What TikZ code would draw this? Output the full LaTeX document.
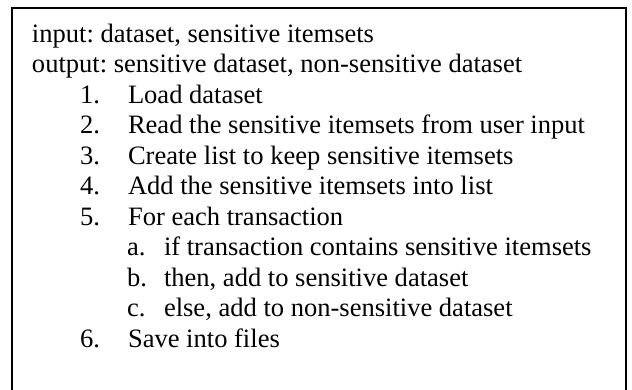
\documentclass[tikz,border=0pt]{standalone}
\usepackage{fontspec}
\setmainfont{Liberation Serif}
\frenchspacing
\begin{document}
\begin{tikzpicture}[x=0.5pt,y=-0.5pt,
  txt/.style={anchor=base west,inner sep=0pt,outer sep=0pt,font=\fontsize{13.27pt}{15.25pt}\selectfont\frenchspacing},
  frame/.style={line width=1pt,draw=black}]
\useasboundingbox (0,0) rectangle (632,390);
\fill[white] (0,0) rectangle (632,390);
\draw[frame] (11.5,391) -- (11.5,8) -- (625.5,8) -- (625.5,391);
\def\b{30.45}
\node[txt] (in)  at (32,42.5) {input: dataset, sensitive itemsets};
\node[txt] (out) at (32,42.5+\b) {output: sensitive dataset, non-sensitive dataset};
\node[txt] (n1) at (80,42.5+2*\b) {1.};
\node[txt] (t1) at (128,42.5+2*\b) {Load dataset};
\node[txt] (n2) at (80,42.5+3*\b) {2.};
\node[txt] (t2) at (128,42.5+3*\b) {Read the sensitive itemsets from user input};
\node[txt] (n3) at (80,42.5+4*\b) {3.};
\node[txt] (t3) at (128,42.5+4*\b) {Create list to keep sensitive itemsets};
\node[txt] (n4) at (80,42.5+5*\b) {4.};
\node[txt] (t4) at (128,42.5+5*\b) {Add the sensitive itemsets into list};
\node[txt] (n5) at (80,42.5+6*\b) {5.};
\node[txt] (t5) at (128,42.5+6*\b) {For each transaction};
\node[txt] (la) at (127,42.5+7*\b) {a.};
\node[txt] (ta) at (164,42.5+7*\b) {if transaction contains sensitive itemsets};
\node[txt] (lb) at (127,42.5+8*\b) {b.};
\node[txt] (tb) at (164,42.5+8*\b) {then, add to sensitive dataset};
\node[txt] (lc) at (127,42.5+9*\b) {c.};
\node[txt] (tc) at (164,42.5+9*\b) {else, add to non-sensitive dataset};
\node[txt] (n6) at (80,42.5+10*\b) {6.};
\node[txt] (t6) at (128,42.5+10*\b) {Save into files};
\end{tikzpicture}
\end{document}
